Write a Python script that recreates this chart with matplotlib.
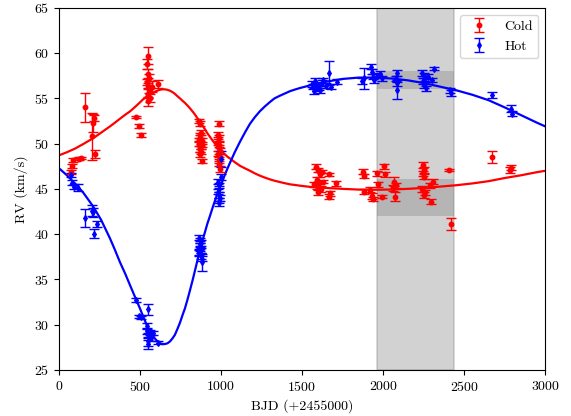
import numpy as np
import matplotlib
matplotlib.use("Agg")
import matplotlib.pyplot as plt

plt.rcParams['font.family'] = 'serif'
plt.rcParams['font.serif'] = ['cmr10']
plt.rcParams['mathtext.fontset'] = 'cm'
plt.rcParams['axes.formatter.use_mathtext'] = True
plt.rcParams['font.size'] = 10

# ---- Cold component observations (BJD-2455000, RV km/s, err) ----
cold_t = [74, 84, 88, 125, 135, 160, 205, 212, 220, 225,
          475, 492, 505,
          548, 545, 552, 558, 543, 550, 556, 547, 560, 553, 575, 611,
          862, 870, 875, 868, 872, 880, 865, 876, 870, 878, 873, 880, 866, 884,
          985, 980, 988, 983, 990, 985, 992, 982, 987, 990, 985, 992,
          1585, 1600, 1610, 1590, 1605, 1595, 1615, 1600, 1575, 1630, 1665, 1670, 1668, 1710, 1620,
          1875, 1880, 1885, 1920, 1930, 1940, 1960, 1992, 2006, 2010, 1970,
          2070, 2080, 2074, 2060,
          2245, 2250, 2248, 2252, 2240, 2255, 2260, 2296, 2310, 2290,
          2407, 2420, 2670, 2784, 2790]
cold_rv = [46.85, 47.5, 48.2, 48.35, 48.4, 54.0, 50.8, 52.3, 52.85, 48.9,
           52.9, 51.95, 50.95,
           59.7, 58.8, 57.7, 57.3, 56.8, 56.4, 55.9, 55.5, 55.0, 54.7, 56.3, 56.6,
           52.5, 52.2, 51.2, 50.9, 50.6, 50.3, 50.0, 49.7, 49.4, 49.1, 48.8, 48.1, 50.4, 49.9,
           52.2, 51.0, 50.6, 50.2, 49.9, 49.5, 49.2, 48.9, 48.6, 48.2, 47.8, 47.2,
           47.45, 47.1, 46.6, 46.0, 45.6, 45.3, 45.0, 44.6, 45.5, 45.8, 46.6, 44.5, 44.15, 45.6, 46.9,
           46.9, 46.4, 44.7, 44.9, 44.2, 43.9, 46.7, 44.15, 47.5, 46.6, 45.5,
           45.8, 45.4, 44.15, 45.1,
           47.65, 47.1, 46.7, 46.35, 45.0, 44.3, 44.6, 43.6, 45.8, 45.4,
           47.1, 41.1, 48.5, 47.1, 47.35]
cold_err = [0.2, 0.2, 0.2, 0.2, 0.15, 1.65, 2.6, 1.0, 0.3, 0.45,
            0.12, 0.2, 0.2,
            0.95, 0.5, 0.5, 0.4, 0.35, 0.3, 0.3, 0.5, 0.45, 0.5, 0.6, 0.45,
            0.25, 0.25, 0.3, 0.3, 0.3, 0.3, 0.3, 0.3, 0.3, 0.3, 0.3, 0.25, 0.25, 0.3,
            0.25, 0.3, 0.3, 0.3, 0.3, 0.3, 0.3, 0.3, 0.3, 0.3, 0.3, 0.3,
            0.25, 0.25, 0.3, 0.3, 0.3, 0.3, 0.3, 0.3, 0.3, 0.2, 0.2, 0.3, 0.3, 0.3, 0.2,
            0.25, 0.25, 0.3, 0.3, 0.3, 0.2, 0.3, 0.2, 0.25, 0.3, 0.3,
            0.5, 0.3, 0.5, 0.3,
            0.3, 0.3, 0.3, 0.3, 0.3, 0.3, 0.3, 0.25, 0.25, 0.3,
            0.1, 0.65, 0.65, 0.3, 0.25]

# ---- Hot component observations ----
hot_t = [74, 84, 93, 121, 160, 205, 212, 220, 238,
         475, 495, 505, 551, 541, 545, 550, 548, 560, 582, 552, 613, 570,
         865, 870, 875, 868, 872, 878, 866, 874, 880, 885, 870, 862,
         980, 985, 990, 983, 988, 992, 986, 990, 1003, 1000,
         1560, 1570, 1580, 1590, 1600, 1610, 1620, 1575, 1630, 1605, 1669, 1680, 1714, 1650,
         1879, 1870, 1925, 1930, 1935, 1945, 1980, 1990, 1960,
         2084, 2080, 2088, 2084,
         2240, 2250, 2260, 2245, 2255, 2265, 2275, 2311, 2300,
         2413, 2420, 2670, 2788, 2795]
hot_rv = [46.5, 45.7, 45.25, 45.15, 41.8, 42.6, 42.4, 40.05, 41.15,
          32.7, 30.9, 30.8, 31.7, 29.85, 29.3, 28.8, 28.15, 29.1, 29.05, 27.8, 28.0, 28.5,
          39.6, 39.3, 39.0, 38.7, 38.4, 38.2, 37.9, 37.6, 37.3, 36.9, 38.9, 38.0,
          45.8, 45.4, 45.0, 44.7, 44.3, 44.0, 43.7, 43.4, 48.3, 46.3,
          56.6, 56.3, 56.9, 56.1, 56.5, 55.9, 56.7, 55.8, 57.0, 56.2, 57.8, 56.3, 56.85, 56.4,
          57.2, 56.9, 58.5, 57.95, 57.4, 57.0, 57.7, 57.2, 57.5,
          57.8, 57.2, 56.7, 55.9,
          57.8, 57.5, 57.2, 56.9, 56.5, 56.1, 57.4, 58.3, 57.0,
          55.9, 55.6, 55.4, 53.85, 53.3]
hot_err = [0.2, 0.25, 0.3, 0.4, 1.0, 0.6, 0.5, 0.5, 0.35,
           0.2, 0.2, 0.2, 0.6, 0.3, 0.3, 0.3, 0.5, 0.3, 0.25, 0.45, 0.2, 0.3,
           0.3, 0.3, 0.3, 0.3, 0.3, 0.3, 0.3, 0.3, 0.3, 0.95, 0.3, 0.3,
           0.3, 0.3, 0.3, 0.3, 0.3, 0.3, 0.3, 0.3, 0.9, 0.3,
           0.3, 0.3, 0.3, 0.3, 0.3, 0.3, 0.3, 0.3, 0.3, 0.3, 1.35, 0.3, 0.3, 0.3,
           1.2, 0.3, 0.25, 0.3, 0.3, 0.3, 0.3, 0.3, 0.3,
           0.3, 0.3, 0.3, 0.95,
           0.3, 0.3, 0.3, 0.3, 0.3, 0.3, 0.3, 0.2, 0.2,
           0.3, 0.3, 0.35, 0.4, 0.3]

# ---- Orbital model curves ----
model_t = [0, 50, 100, 150, 212, 260, 315, 345, 377, 410, 438, 470, 500, 520, 541, 560,
           582, 600, 623, 640, 654, 670, 685, 700, 716, 731, 747, 762, 778, 794, 809,
           825, 840, 855, 870, 885, 901, 916, 932, 948, 963, 979, 994, 1010, 1025, 1040,
           1056, 1085, 1117, 1150, 1179, 1210, 1241, 1270, 1302, 1330, 1364, 1395, 1426,
           1460, 1488, 1520, 1550, 1600, 1650, 1750, 1850, 1950, 2050, 2150, 2250, 2350,
           2450, 2550, 2650, 2750, 2850, 2950, 3000]
model_hot = [47.3, 46.5, 45.6, 44.6, 43.05, 41.6, 39.55, 38.3, 36.9, 35.6, 34.4, 33.05,
             31.8, 30.9, 30.0, 29.3, 28.7, 28.3, 27.95, 27.85, 27.85, 27.93, 28.13, 28.45,
             28.87, 29.5, 30.2, 31.0, 31.8, 32.8, 33.8, 34.9, 36.0, 37.1, 38.2, 39.25, 40.2,
             41.15, 42.0, 42.9, 43.7, 44.5, 45.2, 45.9, 46.6, 47.25, 47.9, 49.05, 50.2, 51.3,
             52.2, 52.95, 53.6, 54.1, 54.6, 55.0, 55.3, 55.55, 55.8, 56.0, 56.15, 56.3,
             56.45, 56.65, 56.85, 57.15, 57.3, 57.3, 57.2, 57.0, 56.7, 56.3, 55.9, 55.4,
             54.8, 54.0, 53.15, 52.3, 51.9]
model_cold = [48.7, 49.05, 49.45, 49.95, 50.6, 51.2, 51.9, 52.3, 52.75, 53.2, 53.55, 54.05,
              54.55, 54.9, 55.2, 55.45, 55.65, 55.8, 55.95, 56.0, 56.0, 55.95, 55.85, 55.7,
              55.5, 55.25, 55.0, 54.75, 54.5, 54.2, 53.9, 53.55, 53.2, 52.8, 52.4, 52.0,
              51.6, 51.15, 50.75, 50.35, 50.0, 49.65, 49.35, 49.05, 48.8, 48.55, 48.35,
              47.95, 47.55, 47.25, 47.0, 46.7, 46.45, 46.25, 46.05, 45.9, 45.75, 45.62,
              45.5, 45.42, 45.35, 45.28, 45.22, 45.16, 45.1, 45.0, 44.92, 44.9, 44.93, 45.0,
              45.1, 45.25, 45.4, 45.6, 45.85, 46.2, 46.5, 46.85, 47.0]

# ---- Highlighted window ----
span_t = [1965, 2438]
hot_band = [56.0, 58.0]
cold_band = [42.0, 46.1]

fig = plt.figure(figsize=(5.71, 4.16), dpi=100)
ax = fig.add_axes([0.103, 0.111, 0.852, 0.870])

ax.axvspan(span_t[0], span_t[1], facecolor='gray', edgecolor='gray', lw=1.2,
           alpha=0.35, zorder=0)
ax.fill_between(span_t, hot_band[0], hot_band[1], color='gray', alpha=0.35, lw=0, zorder=0.5)
ax.fill_between(span_t, cold_band[0], cold_band[1], color='gray', alpha=0.35, lw=0, zorder=0.5)

ax.plot(model_t, model_cold, color='red', lw=1.6, zorder=2)
ax.plot(model_t, model_hot, color='blue', lw=1.6, zorder=2)

ax.errorbar(cold_t, cold_rv, yerr=cold_err, fmt='o', color='red', ms=3.2,
            capsize=3.5, elinewidth=1, capthick=1, label='Cold', zorder=3)
ax.errorbar(hot_t, hot_rv, yerr=hot_err, fmt='d', color='blue', ms=3.0,
            capsize=3.5, elinewidth=1, capthick=1, label='Hot', zorder=3)

ax.set_xlim(0, 3000)
ax.set_ylim(25, 65)
ax.set_xlabel('BJD (+2455000)')
ax.set_ylabel('RV (km/s)')
ax.legend(loc='upper right', fontsize=10)

fig.savefig('out.png', dpi=100)
